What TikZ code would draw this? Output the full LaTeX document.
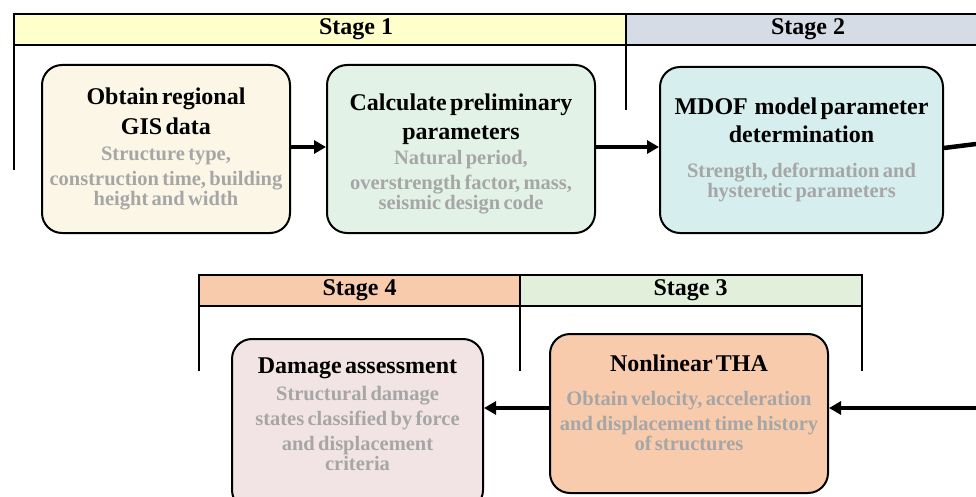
\documentclass[tikz,border=0pt]{standalone}
\usepackage{fontspec}
\setmainfont{Liberation Serif}
\usetikzlibrary{arrows.meta}
\definecolor{stgone}{HTML}{FFFFCC}
\definecolor{stgtwo}{HTML}{D6DCE5}
\definecolor{stgthree}{HTML}{E2EFDA}
\definecolor{stgfour}{HTML}{F8CBAD}
\definecolor{gisfill}{HTML}{FCF6E6}
\definecolor{prefill}{HTML}{E3F2E6}
\definecolor{mdoffill}{HTML}{D6EEEE}
\definecolor{thafill}{HTML}{F8CBAD}
\definecolor{dmgfill}{HTML}{F2E4E4}
\definecolor{subgray}{HTML}{A6A6A6}
\newcommand{\boxttl}{\fontsize{24}{25}\selectfont\bfseries}
\newcommand{\boxsub}{\color{subgray}\fontsize{20.5}{25}\selectfont\bfseries}
\newcommand{\topgap}[1]{\rule{0pt}{#1}}
\newcommand{\botgap}[1]{\rule[-#1]{0pt}{0pt}}
\tikzset{
  stepbox/.style={draw, line width=2pt, rounded corners=20pt, align=center, inner sep=4pt},
  flowline/.style={line width=4.5pt},
  flow/.style={flowline, -{Triangle[length=12pt,width=13pt]}},
  bracket/.style={line width=2pt},
  stagelbl/.style={font=\fontsize{24}{28}\selectfont\bfseries}
}
\begin{document}
\begin{tikzpicture}[x=1pt,y=-1pt]
\useasboundingbox (0,0) rectangle (976,497);
% stage bars, top row
\filldraw[bracket, fill=stgone] (14,14) rectangle (626,45);
\filldraw[bracket, fill=stgtwo] (626,14) rectangle (990,45);
\draw[bracket] (14,45) -- (14,170);
\draw[bracket] (626,45) -- (626,110);
\node[stagelbl] (s1) at (356,29.5) {Stage 1};
\node[stagelbl] (s2) at (808,29.5) {Stage 2};
% stage bars, bottom row
\filldraw[bracket, fill=stgfour] (199,275) rectangle (520,306);
\filldraw[bracket, fill=stgthree] (520,275) rectangle (862,306);
\foreach \x in {199,520,862}{
  \draw[bracket] (\x,306) -- (\x,371);
}
\node[stagelbl] (s4) at (359.5,290.5) {Stage 4};
\node[stagelbl] (s3) at (690.5,290.5) {Stage 3};

\node[stepbox, fill=gisfill, text width=240pt, minimum height=168pt] (gis) at (166,149)
  {\boxttl Obtain regional\\[5pt]GIS data\\[1pt]\boxsub Structure type,\\construction time, building\\height and width};
\node[stepbox, fill=prefill, text width=260pt, minimum height=168pt] (pre) at (461,149)
  {\boxttl\topgap{26.5pt}Calculate preliminary\\[4pt]parameters\\[0pt]\boxsub Natural period,\\overstrength factor, mass,\\seismic design code};
\node[stepbox, fill=mdoffill, text width=275pt, minimum height=166pt] (mdof) at (801.5,150)
  {\boxttl MDOF\ \ model parameter\\[3pt]determination\\[10pt]\boxsub Strength, deformation and\\hysteretic parameters};
\node[stepbox, fill=thafill, text width=270pt, minimum height=159pt] (tha) at (689,413.5)
  {\boxttl Nonlinear THA\\[9pt]\boxsub Obtain velocity, acceleration\\and displacement time history\\of structures\botgap{22pt}};
\node[stepbox, fill=dmgfill, text width=243pt, minimum height=171pt] (dmg) at (357.5,424.5)
  {\boxttl Damage assessment\\[2pt]\boxsub Structural damage\\states classified by force\\and displacement\\criteria\botgap{21pt}};

\coordinate (outR) at (976,144);
\coordinate (inR) at (976,408);
\draw[flow] (gis.east |- 0,147) -- (pre.west |- 0,147);
\draw[flow] (pre.east |- 0,147) -- (mdof.west |- 0,147);
\draw[flowline] (mdof.east |- 0,148) -- (outR);
\draw[flow] (inR) -- (inR -| tha.east);
\draw[flow] (tha.west |- inR) -- (dmg.east |- inR);
\end{tikzpicture}
\end{document}
